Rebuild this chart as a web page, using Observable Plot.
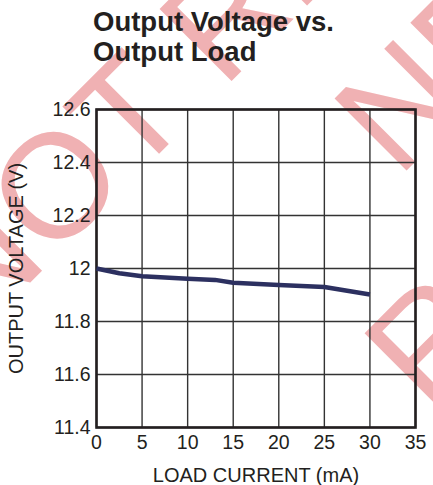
<!DOCTYPE html>
<html>
<head>
<meta charset="utf-8">
<script src="https://cdn.jsdelivr.net/npm/d3@7"></script>
<script src="https://cdn.jsdelivr.net/npm/@observablehq/plot@0.6"></script>
<style>
  html, body { margin: 0; padding: 0; background: #fff; }
  #wrap { position: relative; width: 433px; height: 485px; overflow: hidden; font-family: "Liberation Sans", Arial, sans-serif; }
  #wm { position: absolute; left: 0; top: 0; z-index: 0; }
  #chart { position: absolute; left: 0; top: 0; z-index: 1; }
  #title { position: absolute; left: 93px; top: 7px; z-index: 2; font-weight: bold; font-size: 27.5px; line-height: 30px; color: #231f20; }
</style>
</head>
<body>
<div id="wrap">
  <svg id="wm" width="433" height="485" xmlns="http://www.w3.org/2000/svg"></svg>
  <div id="chart"></div>
  <div id="title">Output Voltage vs.<br>Output Load</div>
</div>
<script>
// Data
const loadCurrent   = [0, 2.5, 5, 10, 13, 15, 20, 25, 30];
const outputVoltage = [12.0, 11.982, 11.971, 11.961, 11.957, 11.946, 11.938, 11.930, 11.902];
const xTicks = [0, 5, 10, 15, 20, 25, 30, 35];
const yTicks = [11.4, 11.6, 11.8, 12.0, 12.2, 12.4, 12.6];
const yTickLabels = ["11.4", "11.6", "11.8", "12", "12.2", "12.4", "12.6"];
const xLabel = "LOAD CURRENT (mA)";
const yLabel = "OUTPUT VOLTAGE (V)";
const watermarkLines = ["NOT RECOMMENDED FOR", "NEW DESIGNS", "REPLACEMENT"];

// Watermark (decorative, behind the chart), clipped by the page edge like the reference
const wmPos = [[-25.1, 337.7], [398.1, 178.9], [427.9, 413.7]];
const wm = d3.select("#wm");
watermarkLines.forEach((t, i) => {
  wm.append("text")
    .attr("transform", `translate(${wmPos[i][0]},${wmPos[i][1]}) rotate(-45)`)
    .attr("font-family", "Liberation Sans, Arial, sans-serif")
    .attr("font-size", 148)
    .attr("fill", "#f0b1b3")
    .text(t);
});

const data = loadCurrent.map((x, i) => ({x, y: outputVoltage[i]}));
const yFmt = new Map(yTicks.map((v, i) => [v.toFixed(1), yTickLabels[i]]));

const chart = Plot.plot({
  width: 433,
  height: 485,
  marginLeft: 96,
  marginRight: 18,
  marginTop: 109,
  marginBottom: 58,
  style: {background: "transparent", fontFamily: "Liberation Sans, Arial, sans-serif", color: "#231f20"},
  x: {domain: [0, 35], ticks: xTicks, label: null},
  y: {domain: [11.4, 12.6], ticks: yTicks, label: null},
  marks: [
    Plot.gridX(xTicks, {stroke: "#333", strokeOpacity: 1, strokeWidth: 1.4}),
    Plot.gridY(yTicks, {stroke: "#333", strokeOpacity: 1, strokeWidth: 1.4}),
    Plot.frame({stroke: "#231f20", strokeWidth: 2.6}),
    Plot.axisX(xTicks, {tickSize: 0, tickPadding: 8, fontSize: 19.5, label: null, tickFormat: d => String(d)}),
    Plot.axisY(yTicks, {tickSize: 0, tickPadding: 6, fontSize: 19.5, label: null, tickFormat: d => yFmt.get((+d).toFixed(1))}),
    Plot.line(data, {x: "x", y: "y", stroke: "#2c3060", strokeWidth: 4.5, strokeLinecap: "butt"}),
    Plot.text([xLabel], {frameAnchor: "bottom", dy: 48, lineAnchor: "middle", textAnchor: "middle", fontSize: 20, fill: "#231f20"}),
    Plot.text([yLabel], {frameAnchor: "left", dx: -79.5, rotate: -90, lineAnchor: "middle", textAnchor: "middle", fontSize: 20, fill: "#231f20"})
  ]
});
document.getElementById("chart").appendChild(chart);
</script>
</body>
</html>
